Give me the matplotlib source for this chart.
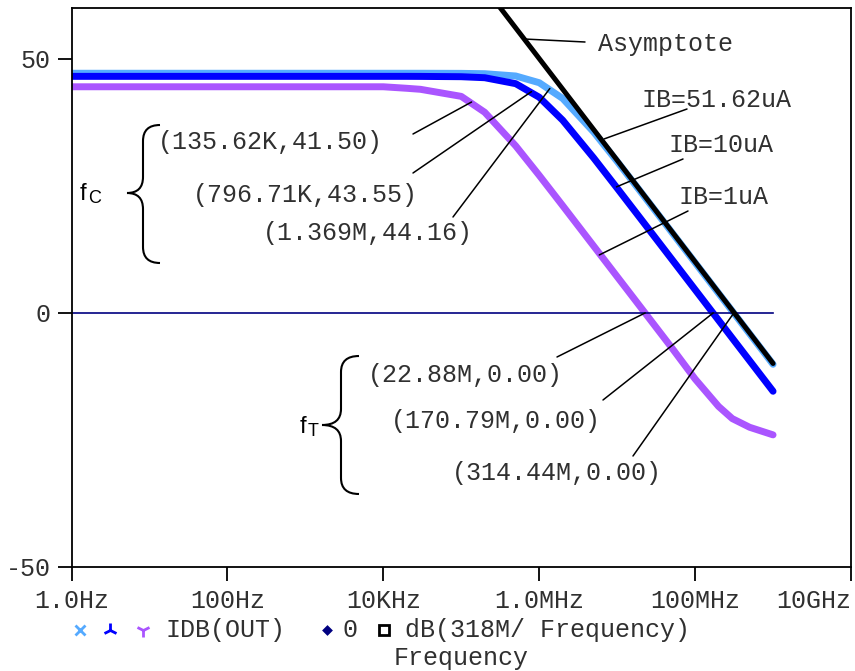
# Bode plot of IDB(OUT) for three bias currents, with the 318M/f asymptote

import matplotlib.pyplot as plt
import numpy as np
from matplotlib.lines import Line2D
from matplotlib.path import Path
from matplotlib.patches import PathPatch

plt.rcParams['font.family'] = ['Liberation Mono', 'DejaVu Sans Mono']

# Data (frequency in Hz, gain in dB)
freq = [1, 10, 100, 1e3, 1e4, 2e4, 3e4, 1e5, 2e5, 5e5, 1e6, 2e6, 5e6,
        1e7, 2e7, 5e7, 1e8, 2e8, 3e8, 5e8, 1e9]
ib_51u = [47.16, 47.16, 47.16, 47.16, 47.16, 47.16, 47.16, 47.14, 47.07,
          46.62, 45.30, 42.20, 35.59, 29.81, 23.85, 15.91, 9.89, 3.87,
          0.35, -4.09, -10.11]
ib_10u = [46.55, 46.55, 46.55, 46.55, 46.55, 46.55, 46.54, 46.48, 46.28,
          45.11, 42.44, 37.92, 30.49, 24.55, 18.55, 10.60, 4.58, -1.44,
          -4.97, -9.40, -15.42]
ib_1u = [44.5, 44.5, 44.5, 44.5, 44.5, 44.2, 44.0, 42.61, 39.48, 32.86,
         27.07, 21.11, 13.16, 7.14, 1.13, -6.83, -13.0, -18.4, -20.8,
         -22.5, -24.0]
zero = [0.0] * len(freq)

asym_freq = [2e5, 5e5, 1e6, 3e6, 1e7, 3e7, 1e8, 3e8, 1e9]
asym_db = [64.03, 56.07, 50.05, 40.51, 30.05, 20.51, 10.05, 0.51, -9.95]

xticks = [1, 1e2, 1e4, 1e6, 1e8, 1e10]
xticklabels = ['1.0Hz', '100Hz', '10KHz', '1.0MHz', '100MHz', '10GHz']
yticks = [-50, 0, 50]

W, H = 855, 671
TXT = '#303030'


def fx(px):
    return px / W


def fy(py):
    return 1 - py / H


fig = plt.figure(figsize=(W / 100, H / 100), dpi=100)
ax = fig.add_axes([fx(71.5), fy(567), (851 - 71.5) / W, (567 - 8) / H])

cap = dict(solid_capstyle='round', solid_joinstyle='round')
ax.plot(freq, ib_51u, color='#55aaff', lw=5, **cap)
ax.plot(freq, ib_10u, color='#0000ff', lw=5, **cap)
ax.plot(freq, ib_1u, color='#aa55ff', lw=5, **cap)
ax.plot(freq, zero, color='#000080', lw=1.2)
ax.plot(asym_freq, asym_db, color='black', lw=3.6, **cap)

ax.set_xscale('log')
ax.set_xlim(1, 1e10)
ax.set_ylim(-50, 60)
ax.set_xticks(xticks)
ax.set_xticklabels(xticklabels)
ax.set_yticks(yticks)
ax.set_yticklabels(['-50', '0', '50'])
ax.minorticks_off()
ax.tick_params(direction='out', length=10, width=1.3, labelsize=18,
               labelcolor=TXT)
ax.tick_params(axis='x', pad=6)
ax.tick_params(axis='y', pad=5)
ax.get_xticklabels()[-1].set_horizontalalignment('right')
for s in ax.spines.values():
    s.set_linewidth(1.3)

# point labels: text, left x, centre y, line start (pixels), target (data)
notes = [
    ('(135.62K,41.50)', 158, 142, (413, 134), (135.62e3, 41.50)),
    ('(796.71K,43.55)', 193, 195, (413, 173), (796.71e3, 43.55)),
    ('(1.369M,44.16)', 263, 233, (453, 217), (1.369e6, 44.16)),
    ('(22.88M,0.00)', 368, 375, (557, 357), (22.88e6, 0.0)),
    ('(170.79M,0.00)', 391, 421, (603, 400), (170.79e6, 0.0)),
    ('(314.44M,0.00)', 452, 473, (633, 456), (314.44e6, 0.0)),
    ('Asymptote', 598, 44, (585, 42), (6.4e5, 53.9)),
    ('IB=51.62uA', 641, 100, (687, 109), (6.85e6, 34.25)),
    ('IB=10uA', 668, 145, (683, 159), (9.8e6, 24.8)),
    ('IB=1uA', 678, 197, (688, 211), (5.9e6, 11.4)),
]
for txt, tx, ty, (lx, ly), xy in notes:
    fig.text(fx(tx), fy(ty), txt, fontsize=18, color=TXT,
             ha='left', va='center')
    ax.annotate('', xy=xy, xycoords='data', xytext=(fx(lx), fy(ly)),
                textcoords='figure fraction',
                arrowprops=dict(arrowstyle='-', lw=1.1, color='black',
                                shrinkA=0, shrinkB=0))


def brace(xe, xs, xt, y0, ym, y1, r=16):
    pts = [(xe, y0), (xs, y0), (xs, y0 + r), (xs, ym - r), (xs, ym),
           (xt, ym), (xs, ym), (xs, ym + r), (xs, y1 - r), (xs, y1),
           (xe, y1)]
    codes = [Path.MOVETO, Path.CURVE3, Path.CURVE3, Path.LINETO,
             Path.CURVE3, Path.CURVE3, Path.CURVE3, Path.CURVE3,
             Path.LINETO, Path.CURVE3, Path.CURVE3]
    verts = [(fx(a), fy(b)) for a, b in pts]
    fig.add_artist(PathPatch(Path(verts, codes), fill=False, lw=1.5,
                             ec='black', transform=fig.transFigure))


brace(160, 143, 127, 125, 193, 263)
brace(359, 341, 322, 356, 425, 494)

# f_C and f_T labels, drawn as letter plus lowered subscript
for base_x, base_y, sub in [(80, 200, 'C'), (300, 433, 'T')]:
    fig.text(fx(base_x), fy(base_y), 'f', fontsize=17,
             family='Liberation Sans', va='baseline', ha='left')
    fig.text(fx(base_x + 8), fy(base_y + 3), sub, fontsize=13,
             family='Liberation Sans', va='baseline', ha='left')

# legend row under the axis
ly = fy(630)
marks = [(80, 'x', '#55aaff', 7), (110, '2', '#0000ff', 10),
         (143, '1', '#aa55ff', 10), (327, 'D', '#000080', 3.5),
         (384, 's', 'black', 7)]
for mx, m, c, ms in marks:
    face = 'none' if m == 's' else c
    fig.add_artist(Line2D([fx(mx)], [ly], marker=m, color=c, ms=ms,
                          mew=2, mfc=face, transform=fig.transFigure))
fig.text(fx(165), ly, 'IDB(OUT)', fontsize=18, color=TXT, va='center')
fig.text(fx(342), ly, '0', fontsize=18, color=TXT, va='center')
fig.text(fx(405), ly, 'dB(318M/ Frequency)', fontsize=18, color=TXT,
         va='center')
fig.text(fx(461), fy(658), 'Frequency', fontsize=18, color=TXT,
         ha='center', va='center')

fig.savefig('out.png', dpi=100)
